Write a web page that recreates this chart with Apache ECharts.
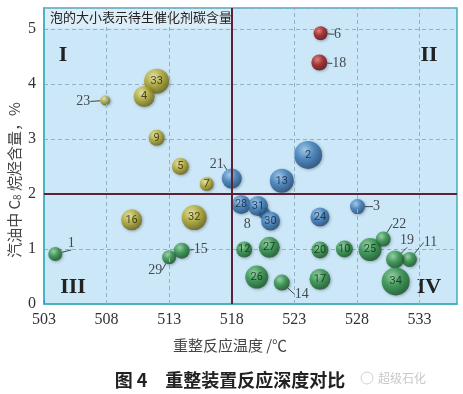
<!DOCTYPE html>
<html><head><meta charset="utf-8">
<script src="https://cdn.jsdelivr.net/npm/echarts@6/dist/echarts.min.js"></script>
<style>html,body{margin:0;padding:0;background:#fff}#c{width:463px;height:394px}</style>
</head><body><div id="c"></div>
<script>
// ---- data ----
const xTicks = [503, 508, 513, 518, 523, 528, 533];
const yTicks = [0, 1, 2, 3, 4, 5];
const quadX = 518, quadY = 2;

const yellowIds  = [33, 4, 23, 9, 5, 7, 16, 32];
const yellowTemp = [512.0, 511.0, 507.9, 512.0, 513.9, 516.0, 510.0, 515.0];
const yellowC8   = [4.05, 3.77, 3.70, 3.02, 2.50, 2.18, 1.53, 1.57];
const yellowSize = [25, 21, 10, 16, 17, 14, 21, 25];

const blueIds  = [8, 21, 2, 13, 28, 31, 30, 24, 3];
const blueTemp = [520.6, 518.0, 524.1, 522.0, 518.75, 520.1, 521.1, 525.05, 528.05];
const blueC8   = [1.65, 2.28, 2.71, 2.24, 1.81, 1.78, 1.51, 1.58, 1.77];
const blueSize = [12, 20, 28, 24, 19, 20, 19, 19, 15];

const redIds  = [6, 18];
const redTemp = [525.1, 525.0];
const redC8   = [4.92, 4.39];
const redSize = [14, 16];

const greenIds  = [1, 29, 15, 12, 27, 26, 14, 20, 17, 10, 25, 22, 11, 19, 34];
const greenTemp = [503.9, 513.0, 514.0, 519.0, 521.0, 520.0, 522.0, 525.05, 525.05, 527.0, 529.05, 530.1, 532.2, 531.05, 531.1];
const greenC8   = [0.91, 0.85, 0.97, 0.99, 1.03, 0.49, 0.39, 0.98, 0.45, 1.00, 0.99, 1.18, 0.81, 0.81, 0.41];
const greenSize = [14, 14, 16, 16, 21, 23, 16, 17, 21, 17, 23, 15, 15, 18, 28];

// label offsets (px) for labels placed outside their bubble
const outside = {23:[-22,1], 6:[17,1], 18:[20,1], 21:[-15,-14], 3:[19,0], 22:[16,-15],
  19:[12,-19], 11:[21,-17], 14:[20,12], 1:[16,-11], 29:[-14,13], 15:[19,-1], 8:[-17,11]};

function grad(light, mid, dark){
  return {type:'radial', x:0.38, y:0.32, r:0.75, colorStops:[
    {offset:0, color:light},{offset:0.45, color:mid},{offset:1, color:dark}]};
}
function makeSeries(name, ids, temp, c8, size, col, inColor){
  const data = ids.map((id,i)=>{
    const it = {value:[temp[i], c8[i], size[i], id]};
    if (outside[id] && id !== 8) it.labelLine = {show:true, lineStyle:{color:'#444', width:1}};
    return it;
  });
  return {
    type:'scatter', name, data,
    symbolSize: v => v[2],
    itemStyle:{color: col, shadowBlur:3, shadowColor:'rgba(0,0,0,0.35)', shadowOffsetX:1, shadowOffsetY:1},
    label:{show:true, position:'inside', formatter: p => String(p.value[3]),
      color: inColor, fontSize: 11, fontFamily:'Roboto'},
    labelLayout: p => {
      const id = ids[p.dataIndex];
      const o = outside[id];
      if (!o) return {};
      return {dx:o[0], dy:o[1], fontSize:14};
    },
    emphasis:{disabled:true}, z:3
  };
}
function styledOutside(series){
  series.data.forEach(d=>{
    const id = d.value[3];
    if (outside[id]) d.label = {color:'#222', fontFamily:'Liberation Serif', fontSize:14};
  });
  return series;
}

const chart = echarts.init(document.getElementById('c'), null, {renderer:'canvas'});
const gridColor = '#8fb2c8';
const option = {
  animation:false,
  grid:{left:44, right:6, top:8, bottom:90, show:true, backgroundColor:'#cbe7f8', borderColor:'#3fb0bf', borderWidth:1.5},
  xAxis:{type:'value', min:503, max:536,
    axisLine:{show:true, onZero:false, lineStyle:{color:'#3fb0bf', width:1.5}},
    axisTick:{show:true, inside:true, length:4, customValues:xTicks, lineStyle:{color:'#3a8fd0'}},
    axisLabel:{customValues:xTicks, color:'#333', fontFamily:'Liberation Serif', fontSize:16, margin:8},
    splitLine:{show:false}},
  yAxis:{type:'value', min:0, max:5.38, interval:1,
    axisLine:{show:true, lineStyle:{color:'#3fb0bf', width:1.5}},
    axisTick:{show:false},
    axisLabel:{color:'#333', fontFamily:'Liberation Serif', fontSize:16, margin:8, showMaxLabel:false,
      formatter: v => (yTicks.indexOf(v) >= 0 ? String(v) : '')},
    splitLine:{show:true, lineStyle:{color:gridColor, type:[4,3], width:1}}},
  series:[
    {type:'scatter', data:[], silent:true,
      markLine:{silent:true, symbol:'none', label:{show:false},
        lineStyle:{color:gridColor, type:[4,3], width:1},
        data: xTicks.filter(v=>v!==503 && v!==quadX).map(v=>({xAxis:v}))}},
    {type:'scatter', data:[], silent:true, z:2,
      markLine:{silent:true, symbol:'none', label:{show:false},
        lineStyle:{color:'#5e2236', type:'solid', width:2},
        data:[{xAxis:quadX},{yAxis:quadY}]}},
    styledOutside(makeSeries('yellow', yellowIds, yellowTemp, yellowC8, yellowSize, grad('#f4f0a8','#b9ad2c','#5f560c'), '#2a2400')),
    styledOutside(makeSeries('red', redIds, redTemp, redC8, redSize, grad('#ee7a70','#a8181a','#4e0606'), '#fff')),
    styledOutside(makeSeries('blue', blueIds, blueTemp, blueC8, blueSize, grad('#a8d0f2','#3f80c0','#193f6a'), '#12253f')),
    styledOutside(makeSeries('green', greenIds, greenTemp, greenC8, greenSize, grad('#9ad8a2','#2f9446','#0f4a1c'), '#0d2c14'))
  ],
  graphic:[
    {type:'rect', left:45, top:9, shape:{width:186, height:19}, style:{fill:'#dcedf8'}, z:1},
    {type:'text', left:50, top:11, style:{text:'泡的大小表示待生催化剂碳含量', fill:'#222', font:'13px "Noto Sans CJK SC"'}, z:5},
    {type:'text', x:63, y:55, style:{text:'I', fill:'#222', font:'bold 22px "Liberation Serif"', align:'center', verticalAlign:'middle'}, z:5},
    {type:'text', x:429, y:55, style:{text:'II', fill:'#222', font:'bold 22px "Liberation Serif"', align:'center', verticalAlign:'middle'}, z:5},
    {type:'text', x:73, y:287, style:{text:'III', fill:'#222', font:'bold 22px "Liberation Serif"', align:'center', verticalAlign:'middle'}, z:5},
    {type:'text', x:429, y:287, style:{text:'IV', fill:'#222', font:'bold 22px "Liberation Serif"', align:'center', verticalAlign:'middle'}, z:5},
    {type:'text', x:14, y:180, rotation:Math.PI/2,
      style:{text:'{a|汽油中 C}{s|8}{a| 烷烃含量，%}', align:'center', verticalAlign:'middle',
        rich:{a:{fill:'#444', font:'15px "Noto Sans CJK SC"'}, s:{fill:'#444', font:'10px "Noto Sans CJK SC"', padding:[6,0,0,0]}}}},
    {type:'text', x:230, y:345, style:{text:'重整反应温度 /℃', fill:'#444', font:'15px "Noto Sans CJK SC"', align:'center', verticalAlign:'middle'}},
    {type:'text', x:230, y:380, style:{text:'图 4　重整装置反应深度对比', fill:'#222', font:'bold 18px "Noto Sans CJK SC"', align:'center', verticalAlign:'middle'}},
    {type:'text', x:402, y:378, style:{text:'超级石化', fill:'#c8c8c8', font:'12px "Noto Sans CJK SC"', align:'center', verticalAlign:'middle'}},
    {type:'circle', shape:{cx:367, cy:378, r:6}, style:{fill:'none', stroke:'#d0d0d0', lineWidth:1}}
  ]
};
chart.setOption(option);
</script></body></html>
